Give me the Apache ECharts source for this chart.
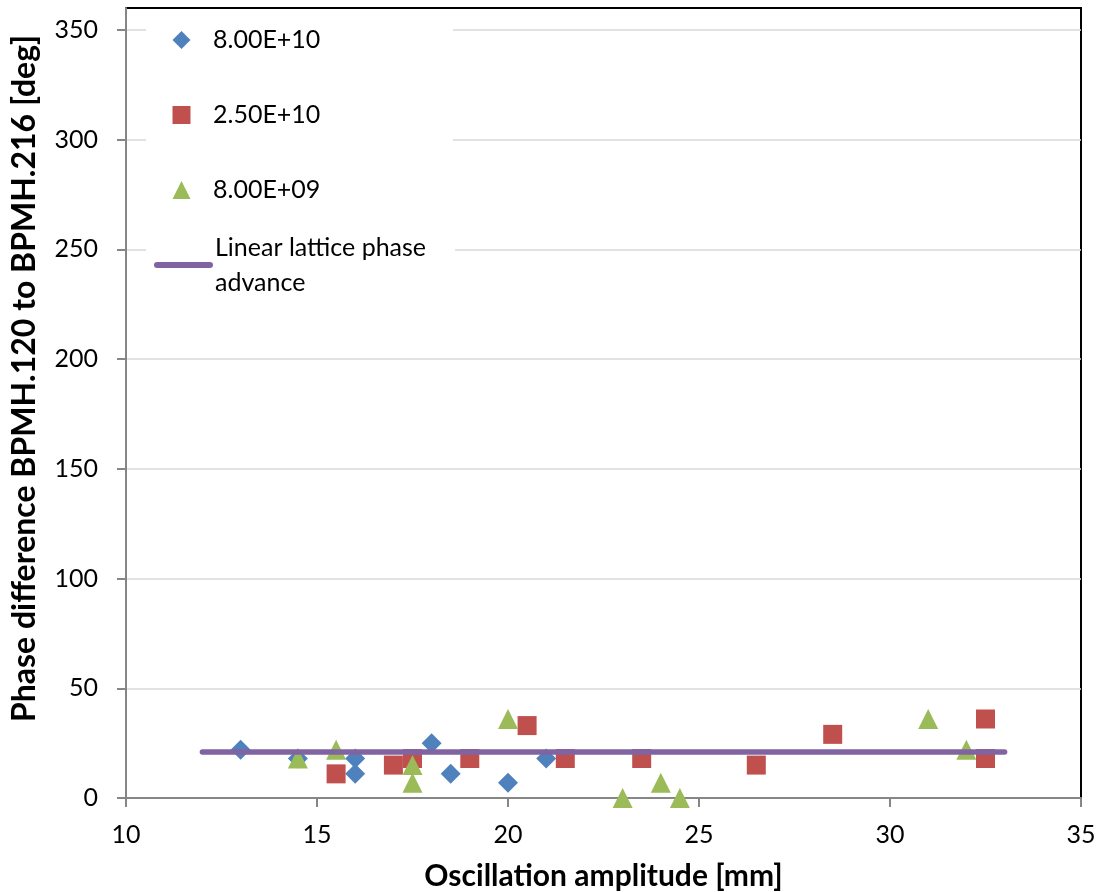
<!DOCTYPE html>
<html>
<head>
<meta charset="utf-8">
<script src="https://cdn.jsdelivr.net/npm/echarts@6/dist/echarts.min.js"></script>
<style>
  html, body { margin: 0; padding: 0; background: #fff; }
  #chart { width: 1100px; height: 892px; }
</style>
</head>
<body>
<div id="chart"></div>
<script>
// ---- data ----
const seriesNames = ['8.00E+10', '2.50E+10', '8.00E+09', 'Linear lattice phase advance'];
const data80E10 = [[13, 22], [14.5, 18], [16, 18], [16, 11], [18, 25], [18.5, 11], [20, 7], [21, 18]];
const data25E10 = [[15.5, 11], [17, 15], [17.5, 18], [19, 18], [20.5, 33], [21.5, 18], [23.5, 18], [26.5, 15], [28.5, 29], [32.5, 36], [32.5, 18]];
const data80E09 = [[14.5, 18], [15.5, 22], [17.5, 15], [17.5, 7], [20, 36], [23, 0], [24, 7], [24.5, 0], [31, 36], [32, 22]];
const latticeLine = [[12, 21], [33, 21]];
const yTicks = [0, 50, 100, 150, 200, 250, 300, 350];
const xTicks = [10, 15, 20, 25, 30, 35];

const FONT = 'Lato';
const chart = echarts.init(document.getElementById('chart'), null, { renderer: 'canvas' });

const legendText = { fontFamily: FONT, fontSize: 25, color: '#000', lineHeight: 35, width: 236 };

chart.setOption({
  animation: false,
  backgroundColor: '#fff',
  grid: {
    left: 126, right: 19, top: 8, bottom: 94,
    containLabel: false, outerBoundsMode: 'none',
    show: true, borderColor: '#000', borderWidth: 2, backgroundColor: 'transparent'
  },
  legend: [
    {
      data: seriesNames.slice(0, 3),
      orient: 'vertical',
      left: 146, top: 9,
      padding: [13.5, 4, 2.5, 26.5],
      itemWidth: 18, itemHeight: 18, itemGap: 40,
      backgroundColor: '#fff',
      selectedMode: false,
      textStyle: Object.assign({}, legendText, { padding: [0, 0, 0, 17.5] }),
      align: 'left'
    },
    {
      data: [seriesNames[3]],
      orient: 'vertical',
      left: 146, top: 210,
      padding: [2.5, 4, 12, 8],
      itemWidth: 53, itemHeight: 18,
      backgroundColor: '#fff',
      selectedMode: false,
      formatter: function (name) { return name.replace(' advance', '\nadvance'); },
      textStyle: Object.assign({}, legendText, { padding: [35, 0, 0, 0] }),
      lineStyle: { color: '#8064A2', width: 6, cap: 'round' },
      itemStyle: { color: 'transparent', borderWidth: 0 },
      align: 'left'
    }
  ],
  xAxis: {
    type: 'value',
    min: xTicks[0], max: xTicks[xTicks.length - 1], interval: 5,
    name: 'Oscillation amplitude [mm]',
    nameLocation: 'middle', nameGap: 63,
    nameTextStyle: { fontFamily: FONT, fontSize: 30, fontWeight: 'bold', color: '#000' },
    axisLine: { show: true, onZero: false, lineStyle: { color: '#868686', width: 2 } },
    axisTick: { show: true, inside: false, length: 9, lineStyle: { color: '#868686', width: 2 } },
    axisLabel: { fontFamily: FONT, fontSize: 25, color: '#000', margin: 24, hideOverlap: false },
    splitLine: { show: false }
  },
  yAxis: {
    type: 'value',
    min: 0, max: 360, interval: 50,
    name: 'Phase difference BPMH.120 to BPMH.216 [deg]',
    nameLocation: 'middle', nameGap: 85,
    nameTextStyle: { fontFamily: FONT, fontSize: 32, fontWeight: 'bold', color: '#000', padding: [0, 0, 0, 49] },
    axisLine: { show: true, onZero: false, lineStyle: { color: '#868686', width: 2 } },
    axisTick: { show: true, inside: false, length: 9, customValues: yTicks, lineStyle: { color: '#868686', width: 2 } },
    axisLabel: { fontFamily: FONT, fontSize: 25, color: '#000', margin: 28, customValues: yTicks, hideOverlap: false },
    splitLine: { show: true, lineStyle: { color: '#D9D9D9', width: 1.5 } }
  },
  series: [
    {
      name: seriesNames[0], type: 'scatter', data: data80E10,
      symbol: 'diamond', symbolSize: 20,
      itemStyle: { color: '#4F81BD', opacity: 1 }
    },
    {
      name: seriesNames[1], type: 'scatter', data: data25E10,
      symbol: 'rect', symbolSize: 19,
      itemStyle: { color: '#C0504D', opacity: 1 }
    },
    {
      name: seriesNames[2], type: 'scatter', data: data80E09,
      symbol: 'triangle', symbolSize: 20,
      itemStyle: { color: '#9BBB59', opacity: 1 }
    },
    {
      name: seriesNames[3], type: 'line', data: latticeLine,
      symbol: 'none', showSymbol: false,
      lineStyle: { color: '#8064A2', width: 5.5, cap: 'round' },
      itemStyle: { color: '#8064A2' }
    }
  ]
});
</script>
</body>
</html>
